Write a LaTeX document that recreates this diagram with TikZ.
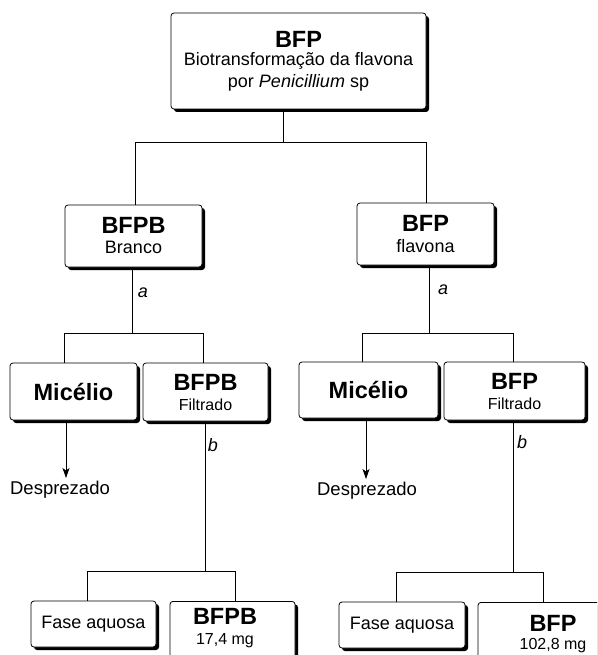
\documentclass[tikz,border=0pt]{standalone}
\usepackage{fontspec}
\setmainfont{Liberation Sans}
\usetikzlibrary{shadows,arrows.meta}
\newcommand\fbig{\fontsize{23.5}{25}\selectfont\bfseries}
\newcommand\fnorm{\fontsize{18}{21}\selectfont}
\newcommand\fsmall{\fontsize{16}{19}\selectfont}
\newcommand\fdes{\fontsize{18.5}{21}\selectfont}
\begin{document}
\begin{tikzpicture}[x=1pt,y=-1pt,
  box/.style={draw=black, line width=0.8pt, fill=white, rounded corners=3pt,
    drop shadow={shadow xshift=3pt, shadow yshift=-3pt, fill=black, opacity=1},
    align=center, inner sep=0pt, font=\fnorm},
  conn/.style={draw=black, line width=0.8pt},
  arr/.style={conn, -{Stealth[length=10pt,width=7pt,inset=2.5pt]}},
  lab/.style={font=\fnorm\itshape, inner sep=0pt},
  plain/.style={font=\fnorm, inner sep=0pt, align=center}]
\useasboundingbox (0,0) rectangle (597,655);
\clip (0,0) rectangle (597,655);
\fill[white] (0,0) rectangle (597,655);

% boxes
\node[box, minimum width=255pt, minimum height=96pt] (top) at (298.5,61)
  {{\fbig BFP}\\[-3pt]Biotransformação da flavona\\[1pt]por \textit{Penicillium} sp};
\node[box, minimum width=137pt, minimum height=62pt] (b1) at (133.5,236)
  {{\fbig BFPB}\\[-1pt]Branco};
\node[box, minimum width=137pt, minimum height=62pt] (b2) at (425.5,234)
  {{\fbig BFP}\\[0pt]flavona};
\node[box, minimum width=127pt, minimum height=57pt] (m1) at (73.5,391.5) {\fbig Micélio};
\node[box, minimum width=125pt, minimum height=58pt] (f1) at (205.5,392)
  {{\fbig BFPB}\\[-1pt]\fsmall Filtrado};
\node[box, minimum width=139pt, minimum height=56pt] (m2) at (368.5,390) {\fbig Micélio};
\node[box, minimum width=141pt, minimum height=58pt] (f2) at (514.5,391)
  {{\fbig BFP}\\[-1pt]\fsmall Filtrado};
\node[box, minimum width=125pt, minimum height=46pt] (fa1) at (93.5,624) {Fase aquosa};
\node[box, minimum width=126pt, minimum height=46pt] (fa2) at (402,625) {Fase aquosa};
\node[box, minimum width=125pt, minimum height=80pt, anchor=north] (r1) at (232.5,601) {};
\node[box, minimum width=160pt, minimum height=80pt, anchor=north] (r2) at (558,602) {};
\node[plain] (r1t) at (225,628) {{\fbig BFPB}\\[-1pt]\fsmall 17,4 mg};
\node[plain] (r2t) at (553,634) {{\fbig BFP}\\[-3pt]\fsmall 102,8 mg};

% junction coordinates
\coordinate (j0) at (283,142);
\coordinate (hL) at (135,142);
\coordinate (hR) at (426,142);
\coordinate (j1) at (132,333);
\coordinate (j1L) at (64,333);
\coordinate (j1R) at (203,333);
\coordinate (j2) at (429,333);
\coordinate (j2L) at (362,333);
\coordinate (j2R) at (513,333);
\coordinate (j3) at (205,571);
\coordinate (j3L) at (87,571);
\coordinate (j3R) at (235,571);
\coordinate (j4) at (513,572);
\coordinate (j4L) at (396,572);
\coordinate (j4R) at (543,572);
\coordinate (d1) at (66,478);
\coordinate (d2) at (366,479);

% connectors
\draw[conn] (top.south -| j0) -- (j0);
\draw[conn] (b1.north -| hL) -- (hL) -- (hR) -- (b2.north -| hR);
\draw[conn] (b1.south -| j1) -- (j1);
\draw[conn] (m1.north -| j1L) -- (j1L) -- (j1R) -- (f1.north -| j1R);
\draw[conn] (b2.south -| j2) -- (j2);
\draw[conn] (m2.north -| j2L) -- (j2L) -- (j2R) -- (f2.north -| j2R);
\draw[arr] (m1.south -| d1) -- (d1);
\draw[arr] (m2.south -| d2) -- (d2);
\draw[conn] (f1.south -| j3) -- (j3);
\draw[conn] (fa1.north -| j3L) -- (j3L) -- (j3R) -- (r1.north -| j3R);
\draw[conn] (f2.south -| j4) -- (j4);
\draw[conn] (fa2.north -| j4L) -- (j4L) -- (j4R) -- (r2.north -| j4R);

% labels
\node[lab] (la1) at (143,293) {a};
\node[lab] (la2) at (443,290) {a};
\node[lab] (lb1) at (213,445) {b};
\node[lab] (lb2) at (522,442) {b};
\node[plain, font=\fdes] (des1) at (60,490) {Desprezado};
\node[plain, font=\fdes] (des2) at (367,491) {Desprezado};
\end{tikzpicture}
\end{document}
